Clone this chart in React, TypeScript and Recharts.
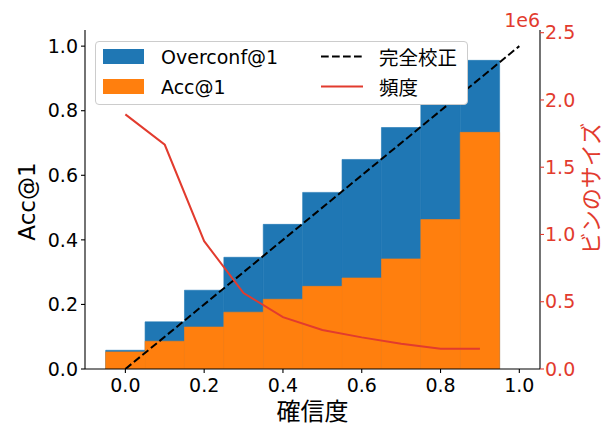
import React from 'react';
import { ComposedChart, Bar, Line, XAxis, YAxis, Legend, Label } from 'recharts';

// ---- data ----
const binCenters = [0.0, 0.1, 0.2, 0.3, 0.4, 0.5, 0.6, 0.7, 0.8, 0.9];
const overconf = [0.058, 0.146, 0.244, 0.346, 0.448, 0.547, 0.649, 0.748, 0.85, 0.956];
const acc = [0.053, 0.086, 0.13, 0.176, 0.216, 0.256, 0.282, 0.341, 0.463, 0.733];
const binSize = [1893000, 1667000, 950000, 565000, 385000, 290000, 235000, 187000, 150000, 150000];
const diagX = [0, 1];
const diagY = [0, 1];
const xTicks = [0, 0.2, 0.4, 0.6, 0.8, 1.0];
const yTicks = [0, 0.2, 0.4, 0.6, 0.8, 1.0];
const rightTicks = [0, 500000, 1000000, 1500000, 2000000, 2500000];
const xLabel = '確信度';
const yLabel = 'Acc@1';
const rightLabel = 'ビンのサイズ';
const rightExp = '1e6';
const legendNames = ['Overconf@1', 'Acc@1', '完全校正', '頻度'];

// ---- style / layout ----
const FONT = '"DejaVu Sans", "Noto Sans CJK JP", sans-serif';
const CJK = '"Noto Sans CJK JP", sans-serif';
const BLUE = '#1f77b4';
const ORANGE = '#ff7f0e';
const RED = '#e23b2e';
const W = 610;
const H = 423;
const TOP = 30;
const LEFT_W = 85;
const RIGHT_W = 70;
const BOTTOM_H = 54;
const X_DOMAIN: [number, number] = [-0.1025, 1.0525];
const Y_DOMAIN: [number, number] = [0, 1.05];
const R_DOMAIN: [number, number] = [0, 2520000];
const BIN_WIDTH = 0.1;
const PLOT_W = W - LEFT_W - RIGHT_W;
// slightly under the full band so Recharts keeps the exact size
const BAR_PX = (PLOT_W * BIN_WIDTH) / (X_DOMAIN[1] - X_DOMAIN[0]) - 0.01;

const data = binCenters.map((x, i) => ({ x, overconf: overconf[i], acc: acc[i], freq: binSize[i] }));
const diag = diagX.map((x, i) => ({ x, y: diagY[i] }));

const TICK_FS = 19;
const LEGEND_FS = 19;

const LegendBox = () => (
  <div
    style={{
      position: 'relative',
      width: 373,
      height: 64,
      boxSizing: 'border-box',
      border: '1px solid #cccccc',
      borderRadius: 4,
      background: '#ffffff',
      fontFamily: FONT,
      fontSize: LEGEND_FS,
      color: '#000',
    }}
  >
    <div style={{ position: 'absolute', left: 7, top: 7, width: 41, height: 15, background: BLUE }} />
    <div style={{ position: 'absolute', left: 7, top: 37, width: 41, height: 15, background: ORANGE }} />
    <div style={{ position: 'absolute', left: 65, top: 14.5, transform: 'translateY(-50%)', lineHeight: 1, whiteSpace: 'nowrap' }}>{legendNames[0]}</div>
    <div style={{ position: 'absolute', left: 65, top: 44.5, transform: 'translateY(-50%)', lineHeight: 1, whiteSpace: 'nowrap' }}>{legendNames[1]}</div>
    <svg style={{ position: 'absolute', left: 225, top: 0 }} width={45} height={62}>
      <line x1={0} y1={14.5} x2={42} y2={14.5} stroke="#000" strokeWidth={2} strokeDasharray="7.7 3.3" />
      <line x1={0} y1={44.5} x2={42} y2={44.5} stroke={RED} strokeWidth={2} />
    </svg>
    <div style={{ position: 'absolute', left: 283, top: 14.5, transform: 'translateY(-50%)', lineHeight: 1, whiteSpace: 'nowrap', fontFamily: CJK, fontSize: 19.5 }}>{legendNames[2]}</div>
    <div style={{ position: 'absolute', left: 283, top: 44.5, transform: 'translateY(-50%)', lineHeight: 1, whiteSpace: 'nowrap', fontFamily: CJK, fontSize: 19.5 }}>{legendNames[3]}</div>
  </div>
);

const XLabelContent = (props: any) => {
  const vb = props.viewBox;
  const cx = vb.x + vb.width / 2;
  const cy = vb.y + 40.5;
  return (
    <text x={cx} y={cy} textAnchor="middle" dominantBaseline="central" fontSize={24} fontFamily={CJK} fill="#000">
      {xLabel}
    </text>
  );
};

const YLabelContent = (props: any) => {
  const vb = props.viewBox;
  const cx = vb.x + 27;
  const cy = vb.y + vb.height / 2 + 2;
  return (
    <text x={cx} y={cy} transform={`rotate(-90 ${cx} ${cy})`} textAnchor="middle" dominantBaseline="central" fontSize={23} fontFamily={FONT} fill="#000">
      {yLabel}
    </text>
  );
};

const RightLabelContent = (props: any) => {
  const vb = props.viewBox;
  const cx = vb.x + 49;
  const cy = vb.y + vb.height / 2 - 11;
  return (
    <text x={cx} y={cy} transform={`rotate(-90 ${cx} ${cy})`} textAnchor="middle" dominantBaseline="central" fontSize={22} fontFamily={CJK} fill={RED}>
      {rightLabel}
    </text>
  );
};

const ExpContent = (props: any) => {
  const vb = props.viewBox;
  return (
    <text x={vb.x} y={vb.y - 3.5} textAnchor="end" fontSize={TICK_FS} fontFamily={FONT} fill={RED}>
      {rightExp}
    </text>
  );
};

export default function App() {
  return (
    <div style={{ position: 'absolute', left: 0, top: 0, width: W, height: H, background: '#fff' }}>
      <ComposedChart width={W} height={H} data={data} margin={{ top: TOP, right: 0, bottom: 0, left: 0 }} style={{ fontFamily: FONT }}>
        <XAxis
          xAxisId="b"
          type="number"
          dataKey="x"
          domain={X_DOMAIN}
          allowDataOverflow
          ticks={xTicks}
          tickFormatter={(v: number) => v.toFixed(1)}
          height={BOTTOM_H}
          axisLine={{ stroke: '#000', strokeWidth: 1.1 }}
          tickLine={{ stroke: '#000', strokeWidth: 1.1 }}
          tickSize={4}
          tickMargin={6}
          tick={{ fontSize: TICK_FS, fill: '#000', fontFamily: FONT }}
          interval={0}
        >
          <Label content={XLabelContent} />
        </XAxis>
        <XAxis
          xAxisId="t"
          orientation="top"
          type="number"
          dataKey="x"
          domain={X_DOMAIN}
          allowDataOverflow
          height={0}
          tick={false}
          tickLine={false}
          axisLine={{ stroke: '#000', strokeWidth: 1.1 }}
        />
        <YAxis
          yAxisId="l"
          type="number"
          domain={Y_DOMAIN}
          allowDataOverflow
          ticks={yTicks}
          tickFormatter={(v: number) => v.toFixed(1)}
          width={LEFT_W}
          axisLine={{ stroke: '#000', strokeWidth: 1.1 }}
          tickLine={{ stroke: '#000', strokeWidth: 1.1 }}
          tickSize={4}
          tickMargin={3}
          tick={{ fontSize: TICK_FS, fill: '#000', fontFamily: FONT }}
          interval={0}
        >
          <Label content={YLabelContent} />
        </YAxis>
        <YAxis
          yAxisId="r"
          orientation="right"
          type="number"
          domain={R_DOMAIN}
          allowDataOverflow
          ticks={rightTicks}
          tickFormatter={(v: number) => (v / 1e6).toFixed(1)}
          width={RIGHT_W}
          axisLine={{ stroke: '#000', strokeWidth: 1.1 }}
          tickLine={{ stroke: RED, strokeWidth: 1.1 }}
          tickSize={4}
          tickMargin={1}
          tick={{ fontSize: TICK_FS, fill: RED, fontFamily: FONT }}
          interval={0}
        >
          <Label content={RightLabelContent} />
          <Label content={ExpContent} />
        </YAxis>
        <Bar xAxisId="b" yAxisId="l" dataKey="overconf" fill={BLUE} stroke={BLUE} strokeWidth={0.6} barSize={BAR_PX} isAnimationActive={false} />
        <Bar xAxisId="t" yAxisId="l" dataKey="acc" fill={ORANGE} stroke={ORANGE} strokeWidth={0.6} barSize={BAR_PX} isAnimationActive={false} />
        <Line
          xAxisId="b"
          yAxisId="l"
          data={diag}
          dataKey="y"
          type="linear"
          stroke="#000"
          strokeWidth={2}
          strokeDasharray="7.7 3.3"
          dot={false}
          activeDot={false}
          isAnimationActive={false}
        />
        <Line
          xAxisId="b"
          yAxisId="r"
          dataKey="freq"
          type="linear"
          stroke={RED}
          strokeWidth={2}
          dot={false}
          activeDot={false}
          isAnimationActive={false}
        />
        <Legend
          layout="horizontal"
          verticalAlign="middle"
          align="center"
          content={() => <LegendBox />}
          wrapperStyle={{ left: 95, top: 41, width: 373, height: 64 }}
        />
      </ComposedChart>
    </div>
  );
}
